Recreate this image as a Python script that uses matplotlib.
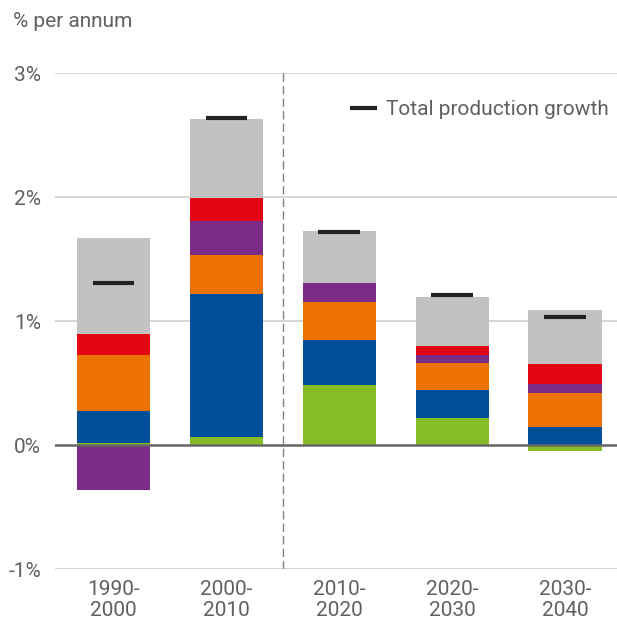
import matplotlib.pyplot as plt
import numpy as np

plt.rcParams['font.family'] = ['Roboto', 'DejaVu Sans']

periods = ['1990-\n2000', '2000-\n2010', '2010-\n2020', '2020-\n2030', '2030-\n2040']
green = [0.02, 0.065, 0.484, 0.218, -0.045]
blue = [0.255, 1.15, 0.363, 0.226, 0.145]
orange = [0.45, 0.315, 0.306, 0.217, 0.274]
purple = [-0.36, 0.28, 0.153, 0.065, 0.073]
red = [0.17, 0.18, 0.0, 0.072, 0.161]
gray = [0.775, 0.64, 0.42, 0.396, 0.436]
total = [1.31, 2.64, 1.72, 1.21, 1.03]

series = [(green, '#86bc25'), (blue, '#004f9a'), (orange, '#ee7203'),
          (purple, '#7b2c87'), (red, '#e30613'), (gray, '#c2c2c2')]

fig = plt.figure(figsize=(6.17, 6.21), dpi=100)
ax = fig.add_axes([0.089, 0.0837, 0.911, 0.7987])

x = np.arange(len(periods))
width = 0.65
pos_base = np.zeros(len(x))
neg_base = np.zeros(len(x))
for vals, col in series:
  vals = np.array(vals)
  bottoms = np.where(vals >= 0, pos_base, neg_base)
  ax.bar(x, vals, width, bottom=bottoms, color=col, zorder=2, linewidth=0)
  pos_base = pos_base + np.clip(vals, 0, None)
  neg_base = neg_base + np.clip(vals, None, 0)

ax.hlines(total, x - 0.185, x + 0.185, color='#222222', linewidth=3, zorder=4,
          label='Total production growth')

# grid and zero line
for yv in [-1, 1, 2, 3]:
  ax.axhline(yv, color='#d0d0d0', linewidth=1.2, zorder=1)
ax.axhline(0, color='#666666', linewidth=1.8, zorder=3)
ax.vlines(1.5, -1, 3, color='#808080', linewidth=1, linestyles=(0, (6, 3)), zorder=1)

ax.set_xlim(-0.52, 4.46)
ax.set_ylim(-1, 3)
ax.set_yticks([-1, 0, 1, 2, 3])
ax.set_yticklabels(['-1%', '0%', '1%', '2%', '3%'])
ax.set_xticks(x)
ax.set_xticklabels(periods, linespacing=1.1)
ax.tick_params(length=0, labelsize=15, labelcolor='#606060')
ax.tick_params(axis='y', pad=10)
ax.tick_params(axis='x', pad=8)
for s in ax.spines.values():
  s.set_visible(False)

fig.text(0.021, 0.965, '% per annum', fontsize=15, color='#606060', va='center')

ax.legend(loc='upper right', bbox_to_anchor=(1.012, 0.975), frameon=False,
          fontsize=15, labelcolor='#606060', handlelength=1.3, handletextpad=0.45,
          borderaxespad=0.3)

fig.savefig('out.png', dpi=100)
